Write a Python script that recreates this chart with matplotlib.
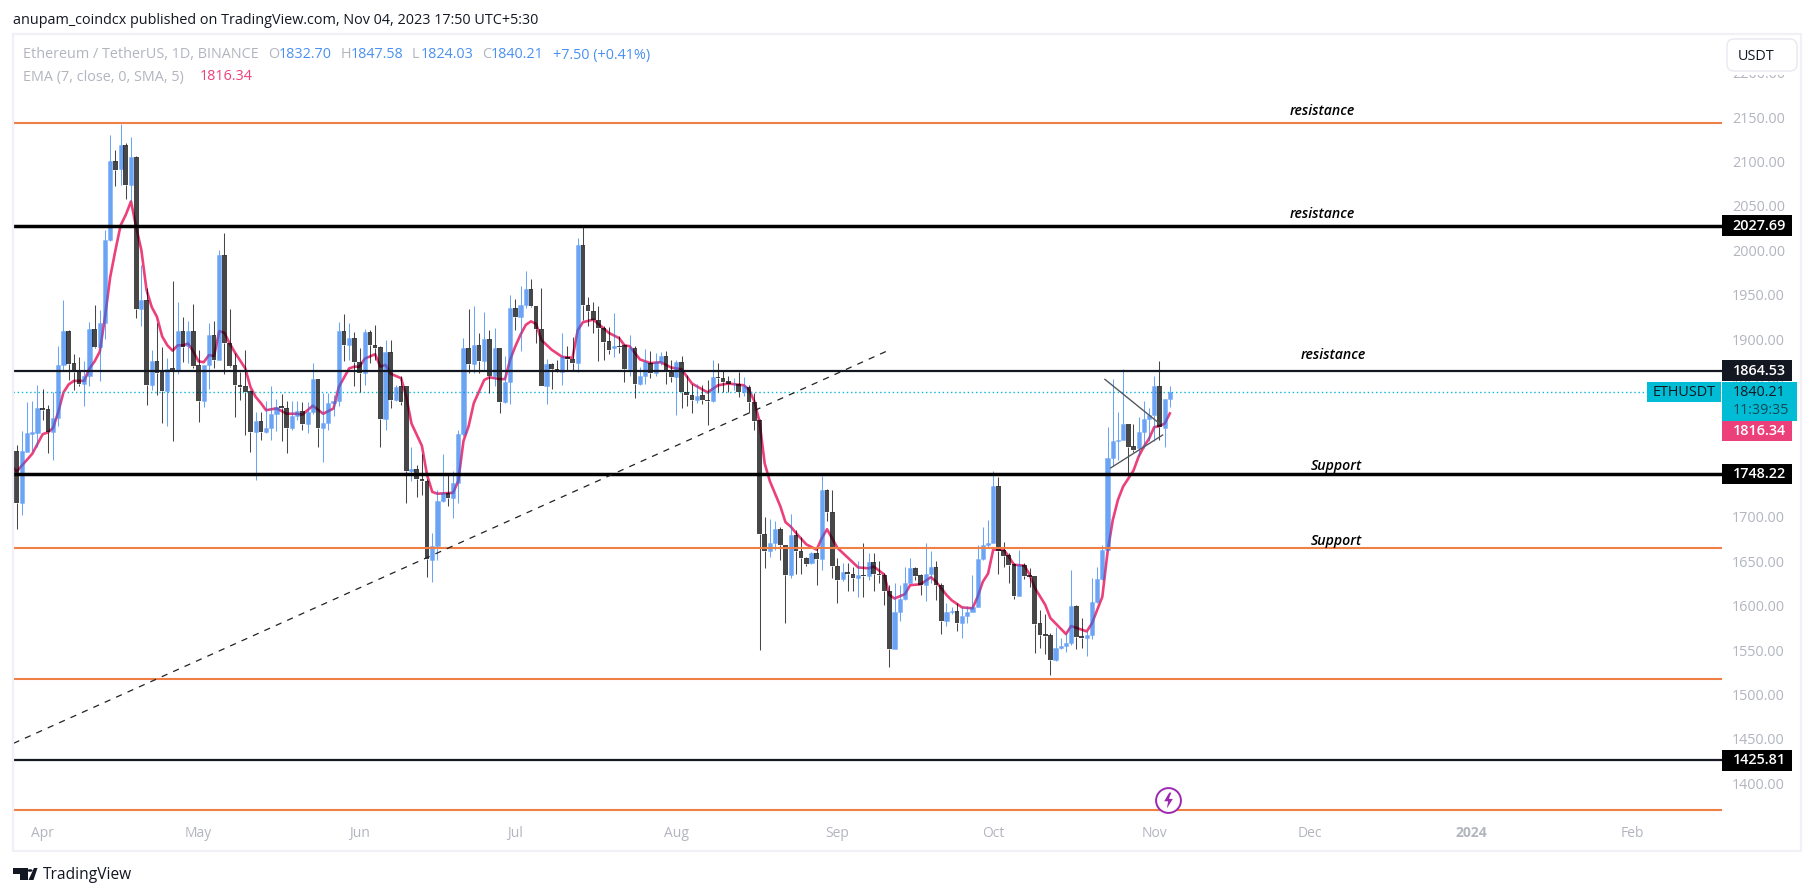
import matplotlib; matplotlib.use("Agg")
import matplotlib.pyplot as plt
import pandas as pd
from matplotlib.colors import to_rgba
from matplotlib.patches import Circle, FancyBboxPatch, Polygon, Rectangle

W, H = 1815, 896
FONT = ["Open Sans", "DejaVu Sans"]
plt.rcParams["font.family"] = FONT

first_day = pd.Timestamp("2023-03-27")

open_ = [
    1774,1715,1773,1793,1794,1822,1821,1795,1811,1871,
    1909,1873,1865,1849,1859,1911,1891,1918,2012,2100,
    2091,2119,2074,2105,1934,1944,1848,1875,1863,1842,
    1867,1865,1909,1892,1909,1871,1830,1871,1905,1877,
    1995,1896,1871,1848,1847,1842,1795,1808,1795,1800,
    1816,1825,1822,1800,1813,1819,1805,1818,1855,1800,
    1806,1828,1830,1909,1893,1901,1874,1862,1908,1893,
    1891,1810,1885,1832,1847,1847,1752,1754,1743,1740,
    1651,1667,1718,1727,1721,1738,1793,1890,1872,1893,
    1875,1900,1859,1890,1829,1852,1935,1925,1938,1956,
    1937,1911,1847,1872,1866,1863,1880,1878,1873,2006,
    1938,1932,1922,1912,1898,1890,1892,1893,1866,1890,
    1850,1858,1873,1862,1874,1881,1863,1857,1874,1840,
    1837,1831,1837,1832,1830,1857,1856,1853,1849,1850,
    1841,1846,1829,1809,1681,1662,1670,1686,1668,1635,
    1680,1661,1654,1648,1659,1653,1730,1705,1645,1630,
    1638,1636,1631,1634,1633,1649,1636,1635,1617,1551,
    1593,1608,1626,1642,1634,1623,1636,1643,1623,1583,
    1593,1594,1581,1588,1593,1599,1653,1668,1671,1735,
    1663,1657,1647,1611,1646,1634,1633,1580,1568,1567,
    1539,1552,1555,1558,1600,1566,1563,1567,1604,1630,
    1663,1766,1785,1787,1804,1780,1777,1795,1810,1815,
    1847,1800,1832.70,
]
high = [
    1781,1797,1829,1830,1848,1844,1826,1840,1892,1944,
    1910,1883,1880,1875,1919,1938,1933,2023,2130,2113,
    2142,2121,2127,2106,1983,1958,1888,1918,1891,1879,
    1965,1942,1925,1920,1939,1888,1871,1918,1920,2000,
    2019,1934,1884,1863,1888,1843,1818,1818,1830,1847,
    1833,1838,1830,1830,1830,1829,1829,1873,1855,1839,
    1839,1837,1919,1928,1918,1908,1890,1911,1910,1916,
    1892,1899,1899,1848,1858,1847,1778,1758,1771,1742,
    1682,1730,1771,1749,1752,1798,1901,1934,1937,1907,
    1931,1910,1913,1890,1881,1950,1945,1960,1977,1968,
    1937,1958,1878,1873,1877,1907,1892,1902,2014,2027,
    1947,1942,1937,1915,1914,1929,1903,1895,1905,1892,
    1869,1889,1887,1884,1885,1887,1877,1877,1881,1860,
    1850,1850,1848,1854,1877,1873,1865,1858,1856,1863,
    1857,1848,1839,1810,1700,1697,1695,1689,1668,1703,
    1685,1677,1655,1660,1666,1746,1731,1730,1654,1648,
    1648,1643,1650,1670,1659,1659,1650,1637,1623,1626,
    1623,1644,1654,1643,1636,1670,1661,1650,1625,1603,
    1599,1603,1598,1600,1634,1668,1689,1696,1752,1745,
    1672,1659,1648,1663,1648,1642,1633,1595,1591,1569,
    1576,1563,1569,1640,1601,1586,1571,1631,1644,1668,
    1801,1855,1818,1866,1804,1804,1812,1830,1822,1858,
    1875,1833,1847.58,
]
low = [
    1686,1702,1773,1774,1779,1809,1772,1764,1802,1865,
    1854,1843,1847,1825,1847,1890,1853,1900,2011,2072,
    2073,2058,2055,1924,1915,1826,1843,1837,1806,1802,
    1785,1861,1874,1873,1868,1807,1824,1844,1867,1876,
    1861,1869,1812,1832,1792,1773,1741,1787,1794,1786,
    1797,1785,1772,1798,1809,1798,1794,1816,1779,1762,
    1798,1813,1825,1875,1876,1847,1840,1848,1873,1876,
    1779,1798,1823,1830,1826,1716,1740,1722,1725,1632,
    1627,1651,1717,1712,1699,1716,1791,1862,1862,1862,
    1865,1839,1847,1817,1828,1827,1910,1887,1935,1936,
    1896,1847,1827,1844,1863,1848,1865,1865,1863,1922,
    1915,1907,1875,1877,1883,1880,1884,1852,1858,1834,
    1848,1850,1856,1858,1871,1850,1852,1815,1823,1825,
    1817,1828,1827,1803,1829,1840,1841,1840,1843,1835,
    1836,1817,1798,1550,1642,1655,1663,1651,1581,1631,
    1636,1636,1645,1647,1623,1640,1695,1631,1603,1628,
    1616,1617,1610,1610,1629,1617,1625,1601,1531,1551,
    1583,1606,1625,1629,1612,1605,1625,1606,1568,1577,
    1591,1571,1564,1581,1593,1599,1651,1666,1670,1636,
    1644,1626,1608,1611,1630,1621,1547,1552,1545,1522,
    1538,1551,1548,1556,1551,1552,1543,1562,1603,1629,
    1663,1757,1764,1786,1749,1773,1768,1777,1785,1785,
    1786,1778,1824.03,
]
close = [
    1715,1774,1794,1795,1822,1820,1795,1811,1871,1909,
    1872,1863,1849,1859,1911,1891,1918,2012,2100,2090,
    2119,2074,2105,1934,1944,1848,1875,1862,1842,1866,
    1865,1909,1891,1909,1870,1830,1871,1905,1877,1995,
    1896,1870,1848,1846,1840,1795,1808,1795,1800,1816,
    1824,1822,1800,1813,1819,1804,1818,1855,1800,1806,
    1828,1830,1909,1893,1901,1874,1862,1908,1893,1890,
    1810,1885,1832,1846,1829,1752,1754,1743,1740,1652,
    1667,1718,1727,1721,1738,1793,1890,1872,1893,1875,
    1900,1859,1890,1829,1852,1935,1925,1938,1956,1937,
    1911,1847,1872,1866,1864,1880,1878,1873,2006,1938,
    1932,1922,1912,1897,1888,1892,1891,1866,1890,1850,
    1858,1874,1862,1874,1881,1863,1857,1874,1840,1837,
    1831,1836,1831,1830,1857,1856,1852,1849,1850,1841,
    1847,1829,1808,1681,1662,1670,1686,1668,1635,1680,
    1661,1654,1647,1659,1653,1730,1705,1645,1629,1638,
    1636,1631,1634,1633,1649,1636,1635,1617,1551,1593,
    1608,1626,1642,1633,1623,1636,1643,1623,1583,1593,
    1594,1581,1588,1593,1599,1653,1668,1671,1735,1662,
    1656,1646,1611,1646,1633,1632,1579,1567,1566,1539,
    1552,1555,1558,1600,1565,1563,1567,1604,1630,1663,
    1766,1785,1787,1804,1779,1775,1795,1810,1815,1847,
    1801,1833,1840.21,
]

ema_day = [
    -1,0,3,5,6,7,8,9,10,11,13,14,15,16,17,18,19,20,21,22,23,24,25,26,27,28,29,30,31,32,
    33,34,35,36,37,38,39,40,41,42,43,44,45,46,47,48,50,52,54,55,57,59,61,62,64,65,66,67,69,70,
    71,72,74,75,76,78,79,80,81,84,85,86,87,88,89,90,91,93,94,95,96,97,98,99,100,101,103,105,107,108,
    109,111,112,114,116,117,118,120,122,124,126,128,130,133,135,137,140,141,142,143,144,145,146,147,148,149,150,152,154,155,
    156,158,160,162,164,165,167,168,169,171,172,174,176,177,179,180,182,184,185,186,187,188,190,191,192,194,195,196,198,199,
    202,203,206,207,208,209,210,211,212,213,214,215,216,217,218,219,220,221,222,
]
ema_val = [
    1757,1751,1771,1793,1795,1800,1818,1840,1849,1853,1853,1867,1875,1886,1925,1970,2000,2028,2040,2055,2026,2000,1955,1936,1925,1903,1893,1887,1893,1893,
    1895,1886,1875,1874,1882,1881,1909,1907,1895,1885,1876,1867,1846,1835,1828,1820,1822,1816,1816,1815,1825,1816,1822,1846,1867,1869,1869,1878,1883,1869,
    1871,1861,1856,1835,1805,1780,1747,1728,1726,1727,1740,1785,1802,1828,1841,1854,1857,1855,1855,1877,1892,1905,1916,1920,1917,1899,1888,1880,1879,1910,
    1919,1922,1917,1907,1901,1893,1892,1877,1873,1874,1868,1866,1850,1840,1848,1850,1848,1843,1830,1807,1760,1740,1726,1712,1694,1689,1682,1669,1663,1676,
    1686,1665,1654,1643,1642,1644,1635,1612,1608,1613,1623,1624,1632,1627,1612,1606,1598,1597,1610,1627,1636,1663,1663,1655,1646,1645,1635,1620,1601,1586,
    1568,1577,1571,1580,1595,1610,1660,1696,1719,1734,1743,1752,1768,1779,1788,1801,1802,1805,1816.34,
]

res_orange = [2143.5, 1665, 1517.5, 1370.3]
lvl_thick = [2027.69, 1748.22]
lvl_thin = [1864.53, 1425.81]

trend_day = [-0.62, 167.7]
trend_val = [1445, 1887]
wedge_up_day = [209.5, 220]
wedge_up_val = [1854.7, 1805]
wedge_lo_day = [210.6, 220.6]
wedge_lo_val = [1755, 1792]

note_text = ["resistance", "resistance", "resistance", "Support", "Support"]
note_day = [251.4, 251.4, 253.4, 254, 254]
note_val = [2157, 2041, 1882, 1757, 1673]

price_ticks = list(range(1400, 2201, 50))
month_starts = ["2023-04-01", "2023-05-01", "2023-06-01", "2023-07-01", "2023-08-01", "2023-09-01",
                "2023-10-01", "2023-11-01", "2023-12-01", "2024-01-01", "2024-02-01"]
month_labels = ["Apr", "May", "Jun", "Jul", "Aug", "Sep", "Oct", "Nov", "Dec", "2024", "Feb"]


def fx(x): return x / W
def fy(y): return 1 - y / H

GREY = "#b2b5be"
INK = "#131722"
BLUE = "#1c73f0"
PINK = "#ec407a"
CYAN = "#00bcd4"
ORANGE = "#ef7f45"
FS = 10.4

fig = plt.figure(figsize=(W / 100, H / 100), dpi=100, facecolor="white")
L, R, T, B = 13.5, 1722.0, 36.0, 812.0
ax = fig.add_axes([fx(L), fy(B), (R - L) / W, (B - T) / H])
ax.set_xlim(-0.62, 328.3)
ax.set_ylim(1367.7, 2241.2)
for s in ax.spines.values():
    s.set_visible(False)
ax.yaxis.tick_right()
ax.set_yticks(price_ticks, [f"{p:.2f}" for p in price_ticks])
ax.tick_params(axis="y", length=0, pad=7.2, labelsize=FS, labelcolor=GREY)
month_idx = [(pd.Timestamp(m) - first_day).days for m in month_starts]
ax.set_xticks(month_idx, month_labels)
ax.tick_params(axis="x", length=0, pad=10, labelsize=FS - 0.4, labelcolor=GREY)
ax.get_xticklabels()[9].set_fontweight("bold")

# EMA under the candles, candles are translucent like in the original
ax.plot(ema_day, ema_val, color=PINK, lw=1.9, zorder=2, solid_joinstyle="round")

days = range(len(close))
up = [i for i in days if close[i] >= open_[i]]
dn = [i for i in days if close[i] < open_[i]]
up_c, dn_c = to_rgba(BLUE, 0.65), to_rgba("#000000", 0.72)
# wicks stop at the body, otherwise the alpha doubles in the middle of it
for idx, col in ((up, up_c), (dn, dn_c)):
    ax.vlines(idx, [max(open_[i], close[i]) for i in idx], [high[i] for i in idx], color=col, lw=0.75, zorder=3)
    ax.vlines(idx, [low[i] for i in idx], [min(open_[i], close[i]) for i in idx], color=col, lw=0.75, zorder=3)
ax.bar(up, [close[i] - open_[i] for i in up], bottom=[open_[i] for i in up], width=0.8,
       color=up_c, edgecolor=to_rgba(BLUE, 0.3), lw=0.5, zorder=3.1)
ax.bar(dn, [close[i] - open_[i] for i in dn], bottom=[open_[i] for i in dn], width=0.9,
       color=dn_c, lw=0, zorder=3.1)

for p in res_orange:
    ax.axhline(p, color=ORANGE, lw=1.5, zorder=4)
for p in lvl_thick:
    ax.axhline(p, color="#000000", lw=2.5, zorder=4)
for p in lvl_thin:
    ax.axhline(p, color=INK, lw=1.6, zorder=4)
ax.plot(ax.get_xlim(), [close[-1], close[-1]], color=CYAN, lw=1, ls=(0, (1, 2)), zorder=2.5)

ax.plot(trend_day, trend_val, color="#222222", lw=0.9, ls=(0, (5, 5)), zorder=4)
ax.plot(wedge_up_day, wedge_up_val, color="#55585f", lw=1, zorder=4)
ax.plot(wedge_lo_day, wedge_lo_val, color="#55585f", lw=1, zorder=4)

for t, d, v in zip(note_text, note_day, note_val):
    ax.text(d, v, t, ha="center", va="center", fontsize=10.2, style="italic", fontweight="semibold",
            color="#000000", zorder=5)

# event badge
badge_day, badge_val = 221.7, 1381
ax.scatter([badge_day], [badge_val], s=320, facecolor="white", edgecolor="#9c27b0", lw=1.4, zorder=5, clip_on=False)
bolt = [(0.1, 1), (-0.55, -0.1), (-0.05, -0.1), (-0.2, -1), (0.55, 0.2), (0.05, 0.2), (0.35, 1)]
ax.scatter([badge_day], [badge_val], s=130, marker=bolt, color="#9c27b0", lw=0, zorder=6, clip_on=False)

# price scale tags
tf = ax.get_yaxis_transform()
px_w = R - L


def price_tag(p, label, fc, tc, weight="normal", shift=0.0, half=11.6, w=70):
    p = p + shift
    ax.add_patch(Rectangle((1, p - half), w / px_w, 2 * half, transform=tf, fc=fc, ec="none",
                           clip_on=False, zorder=7))
    ax.text(1 + 10.5 / px_w, p, label, transform=tf, color=tc, fontsize=FS, fontweight=weight,
            va="center", ha="left", clip_on=False, zorder=8)


price_tag(2027.69, "2027.69", "#000000", "white", "semibold")
price_tag(1864.53, "1864.53", INK, "white", "semibold")
price_tag(1748.22, "1748.22", "#000000", "white", "semibold")
price_tag(1425.81, "1425.81", "#000000", "white", "semibold")
# pushed below the cyan tag like TradingView does
price_tag(1816.34, "1816.34", PINK, "white", "semibold", shift=-19.7, half=11.2)
ax.add_patch(Rectangle((1, close[-1] - 32), 75 / px_w, 43.5, transform=tf, fc=CYAN, ec="none", clip_on=False, zorder=7.5))
ax.text(1 + 10.5 / px_w, close[-1], "1840.21", transform=tf, color=INK, fontsize=FS, va="center", zorder=8)
ax.text(1 + 10.5 / px_w, close[-1] - 20.5, "11:39:35", transform=tf, color="#0f4a55", fontsize=FS, va="center", zorder=8)
ax.add_patch(Rectangle((1 - 75 / px_w, close[-1] - 11.5), 74 / px_w, 23.5, transform=tf, fc=CYAN, ec="none", zorder=7))
ax.text(1 - 38 / px_w, close[-1], "ETHUSDT", transform=tf, color=INK, fontsize=FS, ha="center", va="center", zorder=8)

# frame + top-right button, these sit above the clipped 2200 label
fig.add_artist(Rectangle((fx(1723), fy(75)), 76 / W, 41 / H, transform=fig.transFigure, fc="white", ec="none", zorder=9))
fig.add_artist(Rectangle((fx(13.5), fy(851)), 1787.5 / W, 817 / H, transform=fig.transFigure, fc="none",
                         ec="#f0f0f6", lw=1.6, zorder=9))
fig.add_artist(FancyBboxPatch((fx(1727), fy(71)), 70 / W, 32 / H, boxstyle="round,pad=0,rounding_size=0.004",
                              mutation_aspect=2, transform=fig.transFigure, fc="white", ec="#e8e9f0", lw=1, zorder=10))
fig.text(fx(1738), fy(56), "USDT", color=INK, fontsize=FS, va="center", zorder=11)

# header and legend rows
fig.text(fx(13), fy(21), "anupam_coindcx published on TradingView.com, Nov 04, 2023 17:50 UTC+5:30",
         color=INK, fontsize=FS, va="center")
LEG = "#4a90f0"
row1 = [(23, "Ethereum / TetherUS, 1D, BINANCE", GREY), (268, "O", GREY), (279, "1832.70", LEG), (341, "H", GREY),
        (351, "1847.58", LEG), (412, "L", GREY), (420.5, "1824.03", LEG), (482, "C", GREY), (491, "1840.21", LEG),
        (552.7, "+7.50 (+0.41%)", LEG)]
for x, t, c in row1:
    fig.text(fx(x), fy(55), t, color=c, fontsize=FS, va="center", zorder=11)
fig.text(fx(23), fy(77), "EMA (7, close, 0, SMA, 5)", color=GREY, fontsize=FS, va="center", zorder=11)
fig.text(fx(200), fy(77), "1816.34", color=PINK, fontsize=FS, va="center", zorder=11)

# TradingView logo
for pts in ([(12.7, 868), (28, 868), (28, 880), (20, 880), (20, 874), (12.7, 874)],
            [(33.5, 880), (28.5, 880), (34, 868), (37.5, 868)]):
    fig.add_artist(Polygon([(fx(a), fy(b)) for a, b in pts], transform=fig.transFigure, fc=INK, ec="none"))
fig.add_artist(Circle((fx(30), fy(870.5)), 2.6 / W, transform=fig.transFigure, fc=INK, ec="none"))
fig.text(fx(42.5), fy(875), "TradingView", color=INK, fontsize=11.2, va="center")

fig.savefig("out.png", dpi=100)
